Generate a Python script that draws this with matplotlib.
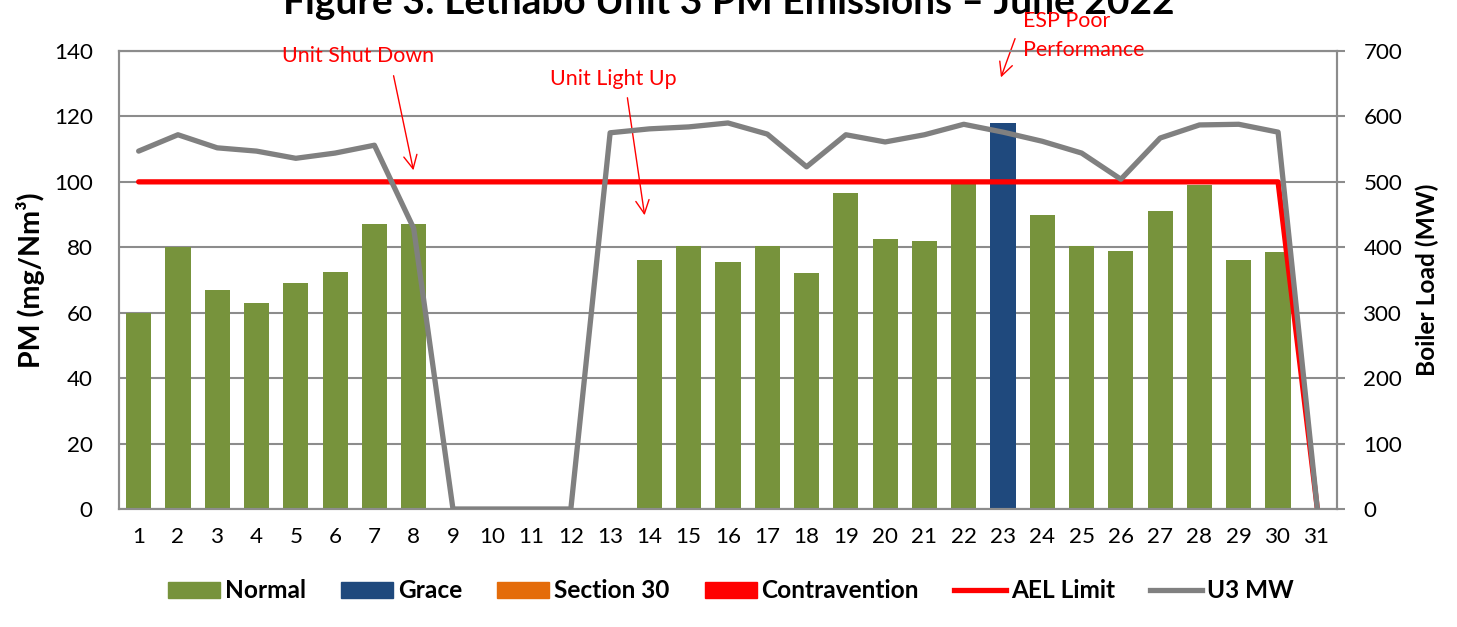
import matplotlib
matplotlib.use("Agg")
import matplotlib.pyplot as plt
from matplotlib.patches import Patch
from matplotlib.lines import Line2D
import numpy as np

plt.rcParams['font.family'] = ['Lato', 'DejaVu Sans']

days = list(range(1, 32))
normal = [60, 80, 67, 63, 69, 72.5, 87, 87, 0, 0, 0, 0, 0, 76, 80.5, 75.5, 80.5, 72, 96.5,
          82.5, 82, 99.5, 0, 90, 80.5, 79, 91, 99, 76, 78.5, 0]
grace = [0] * 22 + [118] + [0] * 8
section30 = [0] * 31
contravention = [0] * 31
ael_limit = [100] * 30 + [0]
u3_mw = [547, 572, 552, 547, 536, 544, 556, 429, 0, 0, 0, 0, 575, 581, 584, 590, 573, 523,
         572, 561, 572, 588, 576, 562, 544, 504, 567, 587, 588, 576, 0]

c_normal = '#77933C'
c_grace = '#1F497D'
c_s30 = '#E46C0A'
c_contra = '#FF0000'
c_grid = '#8C8C8C'
DPI = 100

fig = plt.figure(figsize=(14.57, 6.27), dpi=DPI)
renderer = fig.canvas.get_renderer()


def fit_size(text, target_px, weight='normal', base=20):
    t = fig.text(0, 0, text, fontsize=base, fontweight=weight)
    w = t.get_window_extent(renderer=renderer).width
    t.remove()
    return base * target_px / w


ax = fig.add_axes([119 / 1457, 1 - 509 / 627, (1337 - 119) / 1457, (509 - 51) / 627])
ax2 = ax.twinx()

x = np.array(days)
w = 0.64
ax.bar(x, normal, w, color=c_normal, zorder=2)
ax.bar(x, grace, w, color=c_grace, zorder=2)
ax.bar(x, section30, w, color=c_s30, zorder=2)
ax.bar(x, contravention, w, color=c_contra, zorder=2)
ax.plot(x, ael_limit, color='#FF0000', lw=3.8, zorder=3, solid_capstyle='round')
ax2.plot(x, u3_mw, color='#808080', lw=3.8, zorder=4, solid_capstyle='round')

tick_fs = fit_size('140', 39)
ax.set_xlim(0.5, 31.5)
ax.set_ylim(0, 140)
ax2.set_ylim(0, 700)
ax.set_yticks(range(0, 141, 20))
ax2.set_yticks(range(0, 701, 100))
ax.set_xticks(x)
ax.set_xticklabels([str(d) for d in days])
ax.grid(axis='y', color=c_grid, lw=1.5, zorder=0)
ax.set_axisbelow(True)
for a in (ax, ax2):
    for s in a.spines.values():
        s.set_color(c_grid)
        s.set_linewidth(1.5)
ax.tick_params(axis='x', length=0, pad=13, labelsize=tick_fs)
ax.tick_params(axis='y', length=0, pad=19, labelsize=tick_fs)
ax2.tick_params(axis='y', length=6, width=1.5, color=c_grid, pad=13, labelsize=tick_fs)

ax.set_ylabel('PM (mg/Nm³)', fontsize=fit_size('PM (mg/Nm³)', 175, 'bold'), fontweight='bold')
ax2.set_ylabel('Boiler Load (MW)', fontsize=fit_size('Boiler Load (MW)', 192, 'bold'),
               fontweight='bold')
ax.yaxis.set_label_coords((45 - 119) / 1218, 0.5)
ax2.yaxis.set_label_coords((1416 - 119) / 1218, 0.5)

title = 'Figure 3: Lethabo Unit 3 PM Emissions – June 2022'
fig.text(729 / 1457, 1 - 14 / 627, title, ha='center', va='baseline',
         fontsize=fit_size(title, 892, 'bold'), fontweight='bold')


def px(xp, yp):
    return (xp / 1457, 1 - yp / 627)


red = '#FF0000'
ann_fs = fit_size('Unit Shut Down', 152)
for tail, head in [((393, 73), (414, 173)), ((627, 95), (645, 218)), ((1016, 36), (1000, 80))]:
    ax.annotate('', xy=px(*head), xytext=px(*tail), xycoords='figure fraction',
                textcoords='figure fraction',
                arrowprops=dict(arrowstyle='->', color=red, lw=1, mutation_scale=24))
fig.text(*px(358, 56), 'Unit Shut Down', color=red, fontsize=ann_fs, ha='center', va='center')
fig.text(*px(613, 79), 'Unit Light Up', color=red, fontsize=ann_fs, ha='center', va='center')
fig.text(*px(1023, 21), 'ESP Poor', color=red, fontsize=ann_fs, ha='left', va='center')
fig.text(*px(1023, 50), 'Performance', color=red, fontsize=ann_fs, ha='left', va='center')

leg_fs = fit_size('Contravention', 157, 'bold')
em = leg_fs * DPI / 72.0
handles = [Patch(color=c_normal), Patch(color=c_grace), Patch(color=c_s30), Patch(color=c_contra),
           Line2D([], [], color='#FF0000', lw=3.8), Line2D([], [], color='#808080', lw=3.8)]
labels = ['Normal', 'Grace', 'Section 30', 'Contravention', 'AEL Limit', 'U3 MW']
fig.legend(handles, labels, loc='center', bbox_to_anchor=(731 / 1457, 1 - 591 / 627), ncol=6,
           frameon=False, prop=dict(weight='bold', size=leg_fs), handlelength=52 / em,
           handleheight=15 / em, handletextpad=5 / em, columnspacing=35 / em,
           borderpad=0, borderaxespad=0)

fig.savefig('out.png', dpi=DPI)
